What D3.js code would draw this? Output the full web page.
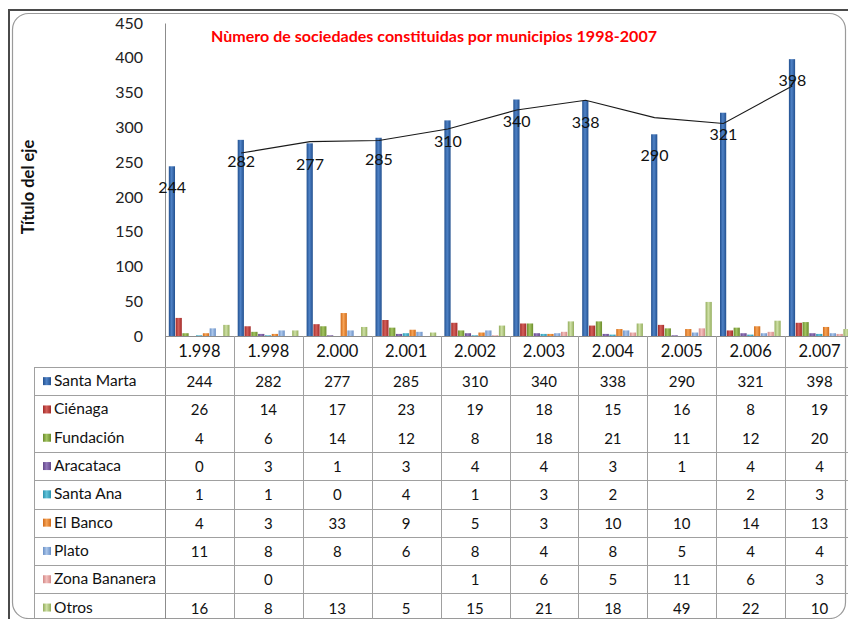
<!DOCTYPE html>
<html><head><meta charset="utf-8">
<script src="https://cdn.jsdelivr.net/npm/d3@7"></script>
<style>body{margin:0;background:#fff}svg{display:block}</style>
</head><body><svg id="c" width="848" height="619"></svg>
<script>
const title = "Nùmero de sociedades constituidas por municipios 1998-2007";
const axisTitle = "Título del eje";
const categories = ["1.998","1.998","2.000","2.001","2.002","2.003","2.004","2.005","2.006","2.007"];
const seriesNames = ["Santa Marta","Ciénaga","Fundación","Aracataca","Santa Ana","El Banco","Plato","Zona Bananera","Otros"];
const santaMarta   = [244,282,277,285,310,340,338,290,321,398];
const cienaga      = [26,14,17,23,19,18,15,16,8,19];
const fundacion    = [4,6,14,12,8,18,21,11,12,20];
const aracataca    = [0,3,1,3,4,4,3,1,4,4];
const santaAna     = [1,1,0,4,1,3,2,null,2,3];
const elBanco      = [4,3,33,9,5,3,10,10,14,13];
const plato        = [11,8,8,6,8,4,8,5,4,4];
const zonaBananera = [null,0,null,null,1,6,5,11,6,3];
const otros        = [16,8,13,5,15,21,18,49,22,10];
const trendValues  = [null,263,279.5,281,297.5,325,339,314,305.5,359.5];
const yTicks = [0,50,100,150,200,250,300,350,400,450];

const seriesValues = [santaMarta,cienaga,fundacion,aracataca,santaAna,elBanco,plato,zonaBananera,otros];
const colors = [
  ["#22508f","#4f82c6"],["#a22a28","#d4605b"],["#6b8b2b","#a3c562"],
  ["#634789","#9277ba"],["#2c93ae","#62c3da"],["#d06a18","#f7a457"],
  ["#6a90c6","#abc6ea"],["#d38886","#f3c0be"],["#93ad5c","#cfe0a6"]
];

const svg = d3.select("#c");
const FONT = "Lato, 'Open Sans', sans-serif";
const defs = svg.append("defs");
colors.forEach((c,i)=>{
  const g = defs.append("linearGradient").attr("id","g"+i).attr("x1","0").attr("x2","1").attr("y1","0").attr("y2","0");
  g.append("stop").attr("offset","0%").attr("stop-color",c[0]);
  g.append("stop").attr("offset","45%").attr("stop-color",c[1]);
  g.append("stop").attr("offset","100%").attr("stop-color",c[0]);
});

svg.append("rect").attr("width",848).attr("height",619).attr("fill","#fff");
// frame
svg.append("rect").attr("x",9).attr("y",10).attr("width",900).attr("height",700)
  .attr("fill","none").attr("stroke","#4a4a4a").attr("stroke-width",2);
svg.append("rect").attr("x",12.5).attr("y",13.5).attr("width",833).attr("height",605).attr("rx",16)
  .attr("fill","#fff").attr("stroke","#9a9a9a").attr("stroke-width",1.2);

// scales
const x = d3.scaleBand().domain(d3.range(categories.length)).range([165,854]).padding(0);
const inner = d3.scaleBand().domain(seriesNames).range([3.8, x.bandwidth()-3.8]).padding(0);
const y = d3.scaleLinear().domain([0,450]).range([336,23]);

// title
svg.append("text").attr("x",434).attr("y",42).attr("text-anchor","middle")
  .attr("font-family",FONT).attr("font-weight","bold").attr("font-size",15.5)
  .attr("textLength",446).attr("lengthAdjust","spacingAndGlyphs")
  .attr("fill","#ff0000").text(title);

// y axis
const yAxis = d3.axisLeft(y).tickValues(yTicks).tickSize(0).tickPadding(22);
const ya = svg.append("g").attr("transform","translate(165,0)").call(yAxis);
ya.select(".domain").attr("stroke","#8c8c8c");
ya.selectAll("text").attr("font-family",FONT).attr("font-size",16).attr("fill","#222");

svg.append("text").attr("transform","translate(34,187) rotate(-90)").attr("text-anchor","middle")
  .attr("font-family",FONT).attr("font-weight","bold").attr("font-size",16.5).attr("fill","#111").text(axisTitle);

// bars
seriesValues.forEach((vals,si)=>{
  svg.append("g").selectAll("rect").data(vals.map((v,i)=>({v,i})).filter(d=>d.v!=null && d.v>0)).join("rect")
    .attr("x",d=>x(d.i)+inner(seriesNames[si]))
    .attr("width",inner.bandwidth()-0.6)
    .attr("y",d=>y(d.v)).attr("height",d=>y(0)-y(d.v))
    .attr("fill","url(#g"+si+")");
});

// trend line
const line = d3.line().defined(d=>d.v!=null)
  .x(d=>x(d.i)+inner(seriesNames[0])+inner.bandwidth()/2).y(d=>y(d.v));
svg.append("path").datum(trendValues.map((v,i)=>({v,i}))).attr("d",line)
  .attr("fill","none").attr("stroke","#1a1a1a").attr("stroke-width",1.1);

// data labels
svg.append("g").selectAll("text").data(santaMarta.map((v,i)=>({v,i}))).join("text")
  .attr("x",d=>x(d.i)+inner(seriesNames[0])+inner.bandwidth()/2)
  .attr("y",d=>y(d.v)+27).attr("text-anchor","middle")
  .attr("font-family",FONT).attr("font-size",16).attr("fill","#111").text(d=>d.v);

// table
const rowTop = 367, rowH = 28.3, tableLeft = 34, tableRight = 854;
const gridC = "#a0a0a0";
const tg = svg.append("g");
tg.append("line").attr("x1",165).attr("x2",tableRight).attr("y1",336.5).attr("y2",336.5).attr("stroke","#8c8c8c");
d3.range(categories.length+1).forEach(k=>{
  const xx = Math.round(165 + k*x.bandwidth())+0.5;
  tg.append("line").attr("x1",xx).attr("x2",xx).attr("y1",336).attr("y2",619).attr("stroke",k===0?"#8c8c8c":gridC);
});
tg.append("line").attr("x1",tableLeft+0.5).attr("x2",tableLeft+0.5).attr("y1",rowTop).attr("y2",619).attr("stroke",gridC);
d3.range(seriesNames.length+1).forEach(k=>{
  if(k===2) return;
  const yy = Math.round(rowTop + k*rowH)+0.5;
  tg.append("line").attr("x1",tableLeft).attr("x2",tableRight).attr("y1",yy).attr("y2",yy).attr("stroke",gridC);
});
tg.selectAll("text.cat").data(categories).join("text").attr("class","cat")
  .attr("x",(d,i)=>x(i)+x.bandwidth()/2).attr("y",357).attr("text-anchor","middle")
  .attr("font-family",FONT).attr("font-size",16.5).attr("fill","#111").text(d=>d);
seriesNames.forEach((name,si)=>{
  const cy = rowTop + si*rowH + rowH/2;
  tg.append("rect").attr("x",43).attr("y",cy-4).attr("width",8).attr("height",8).attr("fill","url(#g"+si+")");
  tg.append("text").attr("x",54).attr("y",cy+5).attr("font-family",FONT).attr("font-size",15.5)
    .attr("fill","#111").text(name);
  seriesValues[si].forEach((v,i)=>{
    if(v==null) return;
    tg.append("text").attr("x",x(i)+x.bandwidth()/2).attr("y",cy+6).attr("text-anchor","middle")
      .attr("font-family",FONT).attr("font-size",15).attr("fill","#111").text(v);
  });
});
</script></body></html>
